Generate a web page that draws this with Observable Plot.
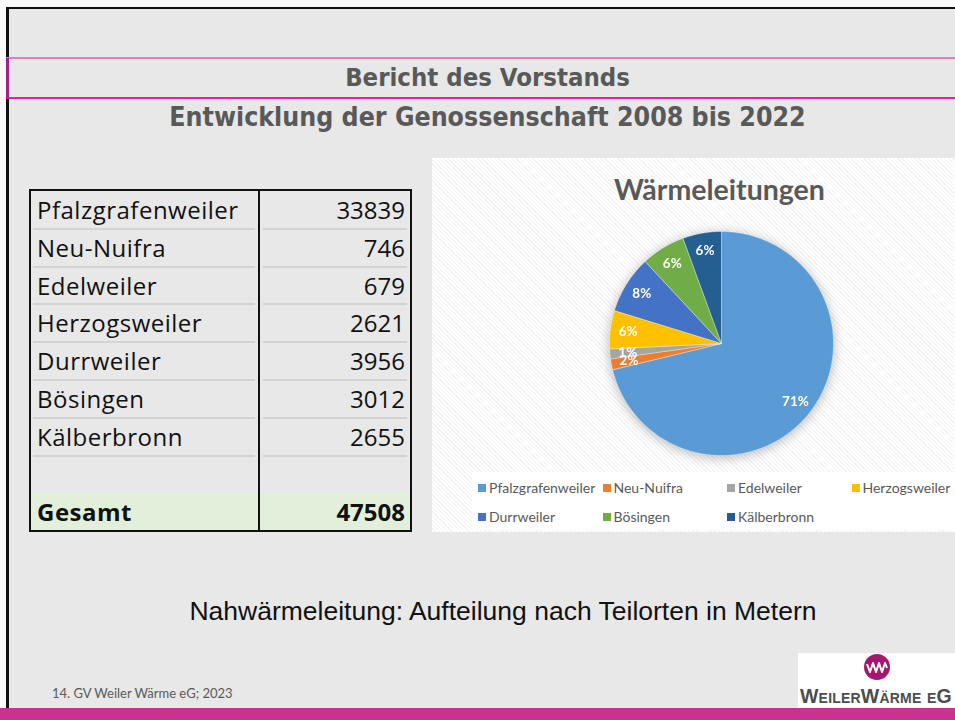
<!DOCTYPE html>
<html>
<head>
<meta charset="utf-8">
<script src="https://cdn.jsdelivr.net/npm/d3@7"></script>
<script src="https://cdn.jsdelivr.net/npm/@observablehq/plot@0.6"></script>
<style>
  html, body { margin: 0; padding: 0; background: #ffffff; }
  #slide { position: relative; width: 955px; height: 720px; overflow: hidden; background: #fafafa; }
  .abs { position: absolute; }
  #bg { left: 9px; top: 9px; width: 946px; height: 699px; background: #e8e8e8; }
  #topline { left: 6px; top: 7px; width: 949px; height: 2px; background: #111; }
  #leftline { left: 6px; top: 7px; width: 3px; height: 701px; background: #111; }
  #pink1 { left: 6px; top: 57px; width: 949px; height: 2px; background: #e07ac4; }
  #pink2 { left: 6px; top: 97px; width: 949px; height: 2px; background: #e322b3; }
  #pinkv { left: 6px; top: 58px; width: 3px; height: 40px; background: #a1208c; }
  .head { left: 0; width: 975px; text-align: center; color: #595959; font-family: "DejaVu Sans Condensed", "DejaVu Sans", sans-serif; font-stretch: condensed; font-weight: bold; }
  #h1 { top: 62px; font-size: 25.5px; }
  #h2 { top: 101px; font-size: 26.5px; }
  #table { left: 29px; top: 189px; width: 379px; height: 339px; border: 2px solid #111; font-family: "Open Sans", sans-serif; font-size: 24px; color: #111; }
  .row { position: absolute; left: 0; width: 379px; height: 38px; }
  .row .n { position: absolute; left: 6px; top: 0; line-height: 38px; letter-spacing: 0.5px; }
  .row .v { position: absolute; right: 5px; top: 0; line-height: 38px; }
  .sep { position: absolute; height: 2px; background: #d4d4d4; }
  #divider { position: absolute; left: 227px; top: 0; width: 2px; height: 339px; background: #111; }
  #panel { left: 432px; top: 158px; width: 523px; height: 374px;
    background: repeating-linear-gradient(45deg, #ffffff 0px, #ffffff 2px, #f3f3f3 2px, #f3f3f3 3px); }
  #ctitle { left: 432px; top: 172px; width: 575px; text-align: center; font-family: Lato, sans-serif; font-weight: bold; font-size: 28.5px; color: #595959; }
  #legbox { left: 472px; top: 472px; width: 483px; height: 58px; background: #ffffff; }
  #pie { left: 601px; top: 223px; filter: drop-shadow(0px 2px 6px rgba(0,0,0,0.28)); }
  #legend { left: 478px; top: 473px; width: 520px; }
  .lg-swatches { font-family: Lato, sans-serif !important; font-size: 14px !important; color: #595959 !important; margin: 0 !important; }
  .lg-swatch { width: 124.5px; height: 29px; margin-right: 0 !important; box-sizing: border-box; font-size: 14px !important; }
  .lg-swatch svg { margin-right: 3px !important; }
  #caption { left: 0; top: 596px; width: 1006px; text-align: center; font-family: "Liberation Sans", Arial, sans-serif; font-size: 26.5px; color: #111; }
  #footer { left: 52px; top: 685px; font-family: Lato, sans-serif; font-size: 13px; color: #595959; }
  #logo { left: 798px; top: 653px; width: 157px; height: 55px; background: #ffffff; }
  #bar { left: 0; top: 708px; width: 955px; height: 12px; background: #c9338f; }
</style>
</head>
<body>
<div id="slide">
  <div class="abs" id="bg"></div>
  <div class="abs" id="topline"></div>
  <div class="abs" id="leftline"></div>
  <div class="abs" id="pink1"></div>
  <div class="abs" id="pink2"></div>
  <div class="abs" id="pinkv"></div>
  <div class="abs head" id="h1">Bericht des Vorstands</div>
  <div class="abs head" id="h2">Entwicklung der Genossenschaft 2008 bis 2022</div>
  <div class="abs" id="table"></div>
  <div class="abs" id="panel"></div>
  <div class="abs" id="ctitle">Wärmeleitungen</div>
  <div class="abs" id="legbox"></div>
  <div class="abs" id="pie"></div>
  <div class="abs" id="legend"></div>
  <div class="abs" id="caption">Nahwärmeleitung: Aufteilung nach Teilorten in Metern</div>
  <div class="abs" id="footer">14. GV Weiler Wärme eG; 2023</div>
  <div class="abs" id="logo">
    <svg width="157" height="55" viewBox="0 0 157 55">
      <circle cx="79" cy="14" r="13" fill="#a3176f"></circle>
      <path d="M69 11 L72 19 L75 10 L78 19 L81 10 L84 19 L87 10 L89 15" fill="none" stroke="#ffffff" stroke-width="2" stroke-linejoin="round"></path>
      <text x="2" y="50" font-family="Liberation Sans, Arial, sans-serif" font-size="19.5" font-weight="bold" fill="#4d4d4d" style="font-variant: small-caps;" letter-spacing="0.2">WeilerWärme eG</text>
    </svg>
  </div>
  <div class="abs" id="bar"></div>
</div>
<script>
// ---- Data ----
const places = ["Pfalzgrafenweiler", "Neu-Nuifra", "Edelweiler", "Herzogsweiler", "Durrweiler", "Bösingen", "Kälberbronn"];
const meters = [33839, 746, 679, 2621, 3956, 3012, 2655];
const totalLabel = "Gesamt";
const totalValue = 47508;
const sliceColors = ["#5b9bd5", "#ed7d31", "#a5a5a5", "#ffc000", "#4472c4", "#70ad47", "#255e91"];
const chartTitle = "Wärmeleitungen";

// ---- Table ----
const table = document.getElementById("table");
const rowH = 37.8;
const rows = places.map((p, i) => ({name: p, value: String(meters[i]), bold: false}));
rows.push({name: "", value: "", bold: false});
rows.push({name: totalLabel, value: String(totalValue), bold: true});
rows.forEach((r, i) => {
  const div = document.createElement("div");
  div.className = "row";
  div.style.top = (i * rowH) + "px";
  if (r.bold) { div.style.background = "#e2efda"; div.style.fontWeight = "bold"; div.style.height = (339 - i * rowH) + "px"; }
  div.innerHTML = `<span class="n">${r.name}</span><span class="v">${r.value}</span>`;
  table.appendChild(div);
  if (i < rows.length - 2) {
    const s1 = document.createElement("div");
    s1.className = "sep"; s1.style.left = "2px"; s1.style.width = "222px"; s1.style.top = ((i + 1) * rowH - 1) + "px";
    const s2 = document.createElement("div");
    s2.className = "sep"; s2.style.left = "232px"; s2.style.width = "144px"; s2.style.top = ((i + 1) * rowH - 1) + "px";
    table.appendChild(s1); table.appendChild(s2);
  }
});
const dv = document.createElement("div"); dv.id = "divider"; table.appendChild(dv);
document.getElementById("ctitle").textContent = chartTitle;

// ---- Pie ----
const total = d3.sum(meters);
const arcs = d3.pie().sort(null).value(d => d.value)(places.map((p, i) => ({name: p, value: meters[i]})));
const outline = [];
for (const a of arcs) {
  outline.push({name: a.data.name, x: 0, y: 0});
  const n = Math.max(2, Math.ceil((a.endAngle - a.startAngle) / (Math.PI / 360)));
  for (let k = 0; k <= n; k++) {
    const t = a.startAngle + (a.endAngle - a.startAngle) * k / n;
    outline.push({name: a.data.name, x: Math.sin(t), y: Math.cos(t)});
  }
  outline.push({name: a.data.name, x: 0, y: 0});
}
const labels = arcs.map(a => {
  const m = (a.startAngle + a.endAngle) / 2;
  return {name: a.data.name, x: 0.84 * Math.sin(m), y: 0.84 * Math.cos(m), text: d3.format(".0%")(a.data.value / total)};
});
const pie = Plot.plot({
  width: 240, height: 240, margin: 0,
  style: {background: "transparent", overflow: "visible"},
  x: {domain: [-1.0714, 1.0714], axis: null},
  y: {domain: [-1.0714, 1.0714], axis: null},
  color: {domain: places, range: sliceColors},
  marks: [
    Plot.line(outline, {x: "x", y: "y", z: "name", fill: "name", stroke: "#ffffff", strokeWidth: 0.6, strokeOpacity: 0.6, curve: "linear"}),
    Plot.text(labels, {x: "x", y: "y", text: "text", fill: "#ffffff", fontWeight: "bold", fontSize: 13.5, fontFamily: "Lato, sans-serif"})
  ]
});
document.getElementById("pie").appendChild(pie);

// ---- Legend ----
const leg = Plot.legend({color: {domain: places, range: sliceColors}, legend: "swatches", swatchSize: 8, className: "lg"});
document.getElementById("legend").appendChild(leg);
</script>
</body>
</html>
